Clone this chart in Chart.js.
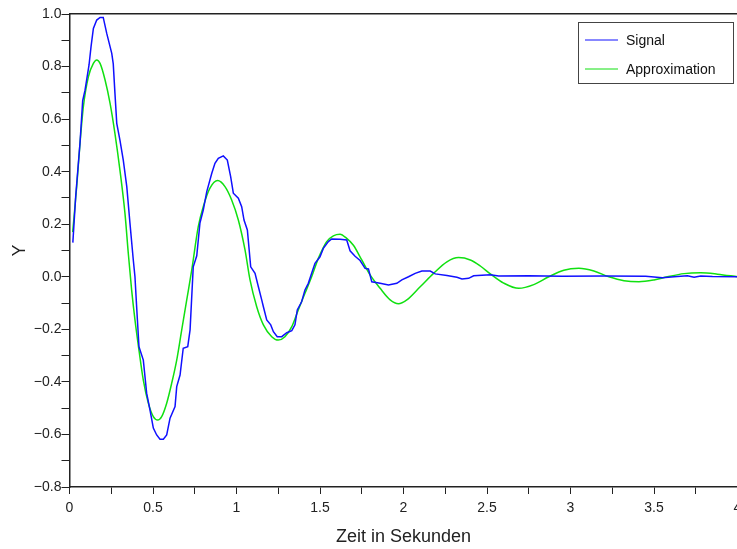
<!DOCTYPE html>
<html>
<head>
<meta charset="utf-8">
<script src="https://cdn.jsdelivr.net/npm/chart.js@4"></script>
<style>
  html, body { margin: 0; padding: 0; background: #fff; overflow: hidden; }
  #wrap { width: 737px; height: 549px; overflow: hidden; }
</style>
</head>
<body>
<div id="wrap">
  <canvas id="myChart" width="760" height="549"></canvas>
</div>
<script>
// measured signal (blue)
const sigT = [0.02, 0.037, 0.063, 0.079, 0.093, 0.117, 0.129, 0.143, 0.163, 0.183, 0.202, 0.223, 0.253, 0.262, 0.272, 0.283, 0.302, 0.322, 0.343, 0.362,
  0.382, 0.392, 0.402, 0.416, 0.442, 0.462, 0.482, 0.502, 0.522, 0.542, 0.562, 0.582, 0.602, 0.632, 0.642, 0.662, 0.681, 0.708, 0.722, 0.741,
  0.762, 0.781, 0.801, 0.822, 0.852, 0.871, 0.891, 0.921, 0.945, 0.965, 0.981, 1.011, 1.031, 1.045, 1.065, 1.085, 1.111, 1.131, 1.151, 1.161,
  1.181, 1.205, 1.221, 1.244, 1.271, 1.301, 1.331, 1.35, 1.364, 1.39, 1.41, 1.43, 1.45, 1.47, 1.5, 1.52, 1.55, 1.57, 1.62, 1.66,
  1.68, 1.71, 1.74, 1.77, 1.79, 1.81, 1.86, 1.91, 1.96, 1.99, 2.03, 2.07, 2.11, 2.16, 2.19, 2.26, 2.32, 2.35, 2.39, 2.42,
  2.52, 2.57, 2.75, 2.95, 3.2, 3.45, 3.55, 3.62, 3.7, 3.74, 3.78, 3.85, 4.0];
const sigY = [0.13, 0.305, 0.51, 0.67, 0.71, 0.806, 0.876, 0.945, 0.977, 0.987, 0.987, 0.926, 0.85, 0.81, 0.70, 0.584, 0.52, 0.444, 0.343, 0.204,
  0.064, 0.0, -0.114, -0.266, -0.317, -0.443, -0.507, -0.576, -0.602, -0.618, -0.618, -0.602, -0.538, -0.494, -0.418, -0.374, -0.272, -0.266, -0.202, 0.038,
  0.08, 0.204, 0.254, 0.324, 0.394, 0.432, 0.451, 0.46, 0.444, 0.381, 0.318, 0.299, 0.267, 0.216, 0.178, 0.038, 0.013, -0.038, -0.088, -0.114,
  -0.164, -0.183, -0.209, -0.228, -0.228, -0.213, -0.205, -0.183, -0.126, -0.095, -0.05, -0.025, 0.013, 0.051, 0.076, 0.108, 0.134, 0.144, 0.143, 0.14,
  0.099, 0.078, 0.062, 0.032, 0.03, -0.019, -0.025, -0.031, -0.025, -0.012, 0.0, 0.013, 0.022, 0.022, 0.011, 0.005, -0.002, -0.008, -0.006, 0.004,
  0.008, 0.003, 0.004, 0.002, 0.003, 0.002, -0.004, 0.0, 0.004, -0.002, 0.003, 0.001, 0.0];

// fitted approximation (green)
const apprT = [0.019, 0.043, 0.063, 0.083, 0.113, 0.143, 0.163, 0.183, 0.213, 0.243, 0.272, 0.302, 0.332, 0.352, 0.372, 0.392, 0.416, 0.442, 0.472, 0.502,
  0.528, 0.552, 0.582, 0.612, 0.642, 0.672, 0.702, 0.732, 0.771, 0.801, 0.841, 0.887, 0.931, 0.971, 1.011, 1.051, 1.081, 1.121, 1.161, 1.211,
  1.25, 1.29, 1.331, 1.37, 1.41, 1.45, 1.49, 1.54, 1.58, 1.62, 1.66, 1.70, 1.75, 1.80, 1.86, 1.92, 1.97, 2.02, 2.10, 2.18,
  2.26, 2.33, 2.40, 2.46, 2.52, 2.60, 2.69, 2.78, 2.87, 2.96, 3.05, 3.14, 3.23, 3.32, 3.41, 3.50, 3.58, 3.68, 3.78, 3.88, 4.0];
const apprY = [0.17, 0.343, 0.508, 0.647, 0.761, 0.812, 0.825, 0.812, 0.749, 0.66, 0.546, 0.406, 0.242, 0.09, -0.05, -0.164, -0.279, -0.393, -0.481, -0.532,
  -0.545, -0.532, -0.481, -0.405, -0.317, -0.202, -0.088, 0.026, 0.191, 0.267, 0.337, 0.366, 0.343, 0.292, 0.216, 0.102, -0.012, -0.114, -0.183, -0.228,
  -0.241, -0.228, -0.19, -0.126, -0.063, 0.0, 0.07, 0.134, 0.156, 0.162, 0.146, 0.12, 0.064, 0.007, -0.044, -0.088, -0.103, -0.088, -0.038, 0.013,
  0.057, 0.073, 0.064, 0.041, 0.011, -0.024, -0.044, -0.03, 0.0, 0.025, 0.032, 0.022, 0.0, -0.015, -0.019, -0.012, 0.0, 0.012, 0.015, 0.01, 0.0];

const seriesNames = ['Signal', 'Approximation'];
const xTitle = 'Zeit in Sekunden';
const yTitle = 'Y';

const toPoints = (xs, ys) => xs.map((x, i) => ({x: x, y: ys[i]}));

const axisColor = '#222';
const fontFam = '"Liberation Sans", Arial, sans-serif';

// legend box in the upper right corner of the plot
const boxLegend = {
  id: 'boxLegend',
  afterDraw(chart) {
    const ctx = chart.ctx;
    ctx.save();
    ctx.fillStyle = '#fff';
    ctx.fillRect(578.5, 22.5, 155, 61);
    ctx.strokeStyle = '#444';
    ctx.lineWidth = 1;
    ctx.strokeRect(578.5, 22.5, 155, 61);
    ctx.font = '14px ' + fontFam;
    ctx.textBaseline = 'middle';
    chart.data.datasets.forEach((ds, i) => {
      const y = 40 + i * 29;
      ctx.strokeStyle = ds.borderColor;
      ctx.beginPath();
      ctx.moveTo(585, y);
      ctx.lineTo(618, y);
      ctx.stroke();
      ctx.fillStyle = '#111';
      ctx.fillText(ds.label, 626, y + 1);
    });
    ctx.restore();
  }
};

new Chart(document.getElementById('myChart'), {
  type: 'line',
  data: {
    datasets: [{
      label: seriesNames[0],
      data: toPoints(sigT, sigY),
      borderColor: '#1010ff',
      borderWidth: 1.5,
      pointRadius: 0,
      tension: 0
    }, {
      label: seriesNames[1],
      data: toPoints(apprT, apprY),
      borderColor: '#10e010',
      borderWidth: 1.5,
      pointRadius: 0,
      cubicInterpolationMode: 'monotone'
    }]
  },
  options: {
    responsive: false,
    animation: false,
    layout: { padding: { top: 14, right: 22.5, bottom: 0, left: 0 } },
    plugins: { legend: { display: false }, tooltip: { enabled: false } },
    scales: {
      x: {
        type: 'linear',
        min: 0, max: 4,
        grid: { drawOnChartArea: false, drawTicks: true, tickLength: 7, color: axisColor, lineWidth: 1 },
        border: { color: axisColor, width: 1.5 },
        ticks: {
          stepSize: 0.25, autoSkip: false, maxRotation: 0, padding: 6,
          color: axisColor, font: { size: 14, family: fontFam },
          callback: v => (Math.round(v * 4) % 2 === 0 ? String(+v.toFixed(2)) : '')
        },
        title: { display: true, text: xTitle, color: axisColor, font: { size: 18, family: fontFam }, padding: { top: 0, bottom: 1 } },
        afterFit: s => { s.height = 62; }
      },
      x2: {
        type: 'linear', position: 'top',
        min: 0, max: 4,
        grid: { display: false },
        ticks: { display: false },
        border: { color: axisColor, width: 1.5 },
        afterFit: s => { s.height = 0; }
      },
      y: {
        min: -0.8, max: 1.0,
        grid: { drawOnChartArea: false, drawTicks: true, tickLength: 8, color: axisColor, lineWidth: 1 },
        border: { color: axisColor, width: 1.5 },
        ticks: {
          stepSize: 0.1, autoSkip: false, padding: 0,
          color: axisColor, font: { size: 14, family: fontFam },
          callback: v => (Math.round(v * 10) % 2 === 0 ? v.toFixed(1).replace('-', '\u2212') : '')
        },
        title: { display: true, text: yTitle, color: axisColor, font: { size: 18, family: fontFam }, padding: { top: 9, bottom: 0 } },
        afterFit: s => { s.width = 69.5; }
      }
    }
  },
  plugins: [boxLegend]
});
</script>
</body>
</html>
